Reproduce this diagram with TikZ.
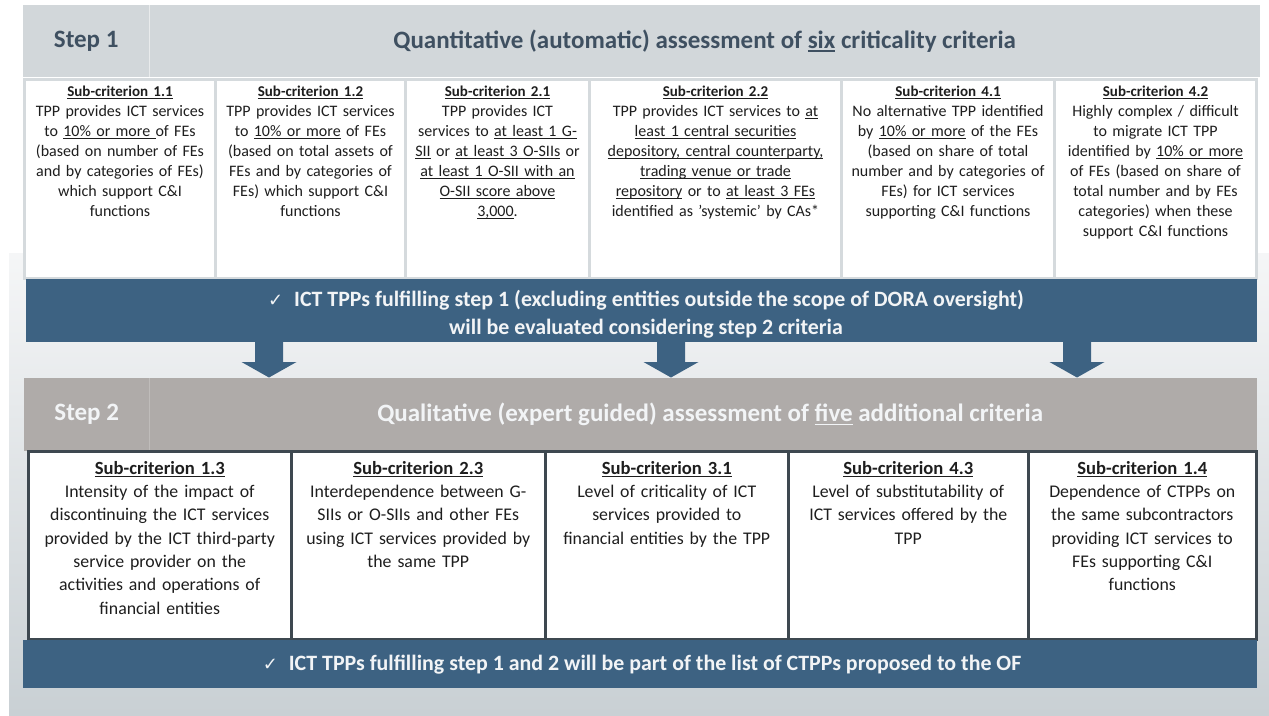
\documentclass[tikz,border=0pt]{standalone}
\usepackage{fontspec}
\setmainfont{Carlito}
\newfontfamily\simboli{DejaVu Sans}
\usetikzlibrary{positioning}

\definecolor{grigioPasso}{HTML}{D2D7DA}
\definecolor{testoPasso}{HTML}{3F5061}
\definecolor{bordoChiaro}{HTML}{D5DADD}
\definecolor{bluFascia}{HTML}{3D6282}
\definecolor{grigioCaldo}{HTML}{AFABA9}
\definecolor{bordoScuro}{HTML}{3E4850}
\definecolor{sfondoAlto}{HTML}{F5F6F7}
\definecolor{sfondoBasso}{HTML}{C9D0D4}
\definecolor{testoChiaro}{HTML}{F2F4F6}
\definecolor{testoCella}{HTML}{1E1E1E}

% sottolineatura semplice (senza ulem)
\newsavebox{\scatola}
\newcommand{\sott}[1]{\leavevmode\sbox{\scatola}{#1}\rlap{\rule[-0.14em]{\wd\scatola}{0.065em}}\usebox{\scatola}}
\newcommand{\subcrit}[2]{{\fontsize{#2}{#2}\selectfont\textbf{\sott{Sub-criterion #1}}}}
\newcommand{\spunta}{{\simboli\fontsize{18}{18}\selectfont ✓}\hspace{11pt}}

\begin{document}
\begin{tikzpicture}[x=1pt, y=-1pt,
    cella1/.style={draw=bordoChiaro, line width=3pt, fill=white, anchor=north west, inner sep=0pt, minimum height=199},
    cella2/.style={draw=bordoScuro, line width=2.5pt, fill=white, anchor=north west, inner sep=0pt, minimum height=188},
    testo1/.style={align=center, inner sep=0pt, text=testoCella, font=\fontsize{16}{20}\selectfont},
    testo2/.style={align=center, inner sep=0pt, text=testoCella, font=\fontsize{17.8}{23.3}\selectfont},
    intest/.style={anchor=north west, inner sep=0pt, font=\bfseries\fontsize{25}{30}\selectfont},
    fascia/.style={anchor=north west, inner sep=0pt, fill=bluFascia},
    testoFascia/.style={align=center, inner sep=0pt, text=testoChiaro, font=\bfseries\fontsize{21.9}{28}\selectfont}]

    % Sfondo e dimensioni della figura
    \useasboundingbox (0,0) rectangle (1269,715);
    \fill[white] (0,0) rectangle (1269,715);
    \shade[top color=sfondoAlto, bottom color=sfondoBasso] (9,253) rectangle (1269,715);

    % --- Step 1: intestazione ---
    \node (passo1) [intest, fill=grigioPasso, text=testoPasso, minimum width=126, minimum height=72] at (23,5) {Step 1};
    \node (titolo1) [intest, fill=grigioPasso, text=testoPasso, minimum width=1111, minimum height=72] at (149,5)
        {Quantitative (automatic) assessment of \sott{six} criticality criteria};
    \draw[white!50!grigioPasso, line width=1.2pt] (passo1.north east) -- (passo1.south east);

    % --- Step 1: sotto-criteri ---
    \node (c11) [cella1, minimum width=191] at (23,78) {};
    \node (c12) [cella1, minimum width=190] at (214,78) {};
    \node (c21) [cella1, minimum width=184] at (404,78) {};
    \node (c22) [cella1, minimum width=252] at (588,78) {};
    \node (c41) [cella1, minimum width=213] at (840,78) {};
    \node (c42) [cella1, minimum width=202] at (1053,78) {};

    \node[testo1, text width=187, below=8pt of c11.north] {\subcrit{1.1}{15}\\
        TPP provides ICT services\\ to \sott{10\% or more }of FEs\\ (based on number of FEs\\
        and by categories of FEs)\\ which support C\&I\\ functions};
    \node[testo1, text width=187, below=8pt of c12.north] {\subcrit{1.2}{15}\\
        TPP provides ICT services\\ to \sott{10\% or more} of FEs\\ (based on total assets of\\
        FEs and by categories of\\ FEs) which support C\&I\\ functions};
    \node[testo1, text width=181, below=8pt of c21.north] {\subcrit{2.1}{15}\\
        TPP provides ICT\\ services to \sott{at least 1 G-}\\ \sott{SII} or \sott{at least 3 O-SIIs} or\\
        \sott{at least 1 O-SII with an}\\ \sott{O-SII score above}\\ \sott{3,000}.};
    \node[testo1, text width=249, below=8pt of c22.north] {\subcrit{2.2}{15}\\
        TPP provides ICT services to \sott{at}\\ \sott{least 1 central securities}\\
        \sott{depository, central counterparty,}\\ \sott{trading venue or trade}\\
        \sott{repository} or to \sott{at least 3 FEs}\\ identified as ’systemic’ by CAs*};
    \node[testo1, text width=210, below=8pt of c41.north] {\subcrit{4.1}{15}\\
        No alternative TPP identified\\ by \sott{10\% or more} of the FEs\\ (based on share of total\\
        number and by categories of\\ FEs) for ICT services\\ supporting C\&I functions};
    \node[testo1, text width=199, below=8pt of c42.north] {\subcrit{4.2}{15}\\
        Highly complex / difficult\\ to migrate ICT TPP\\ identified by \sott{10\% or more}\\
        of FEs (based on share of\\ total number and by FEs\\ categories) when these\\ support C\&I functions};

    % --- Fascia blu dopo lo step 1 ---
    \node (fascia1) [fascia, minimum width=1231, minimum height=63] at (26,279) {};
    \node (msg1) [testoFascia] at (646,314) {\spunta ICT TPPs fulfilling step 1 (excluding entities outside the scope of DORA oversight)\\
        will be evaluated considering step 2 criteria};

    % --- Frecce verso lo step 2 ---
    \foreach \cx in {269,671,1077}
        \fill[bluFascia] (\cx-14,342) -- (\cx+14,342) -- (\cx+14,362) -- (\cx+27.5,362)
            -- (\cx,377.5) -- (\cx-27.5,362) -- (\cx-14,362) -- cycle;

    % --- Step 2: intestazione ---
    \node (passo2) [intest, fill=grigioCaldo, text=testoChiaro, minimum width=125, minimum height=73] at (24,378) {Step 2};
    \node (titolo2) [intest, fill=grigioCaldo, text=testoChiaro, minimum width=1108, minimum height=73] at (149,378)
        {\hspace{14pt}Qualitative (expert guided) assessment of \sott{five} additional criteria};
    \draw[grigioCaldo!80!white, line width=1.2pt] (passo2.north east) -- (passo2.south east);

    % --- Step 2: sotto-criteri ---
    \node (c13) [cella2, minimum width=263] at (27,450) {};
    \node (c23) [cella2, minimum width=254] at (290,450) {};
    \node (c31) [cella2, minimum width=243] at (544,450) {};
    \node (c43) [cella2, minimum width=240] at (787,450) {};
    \node (c14) [cella2, minimum width=228] at (1027,450) {};

    \node[testo2, text width=259, below=11pt of c13.north] {\subcrit{1.3}{18.6}\\
        Intensity of the impact of\\ discontinuing the ICT services\\ provided by the ICT third-party\\
        service provider on the\\ activities and operations of\\ financial entities};
    \node[testo2, text width=251, below=11pt of c23.north] {\subcrit{2.3}{18.6}\\
        Interdependence between G-\\ SIIs or O-SIIs and other FEs\\ using ICT services provided by\\ the same TPP};
    \node[testo2, text width=240, below=11pt of c31.north] {\subcrit{3.1}{18.6}\\
        Level of criticality of ICT\\ services provided to\\ financial entities by the TPP};
    \node[testo2, text width=237, below=11pt of c43.north] {\subcrit{4.3}{18.6}\\
        Level of substitutability of\\ ICT services offered by the\\ TPP};
    \node[testo2, text width=225, below=11pt of c14.north] {\subcrit{1.4}{18.6}\\
        Dependence of CTPPs on\\ the same subcontractors\\ providing ICT services to\\ FEs supporting C\&I\\ functions};

    % --- Fascia blu finale ---
    \node (fascia2) [fascia, minimum width=1234, minimum height=48] at (23,640) {};
    \node (msg2) [testoFascia] at (642,665) {\spunta ICT TPPs fulfilling step 1 and 2 will be part of the list of CTPPs proposed to the OF};

\end{tikzpicture}
\end{document}
